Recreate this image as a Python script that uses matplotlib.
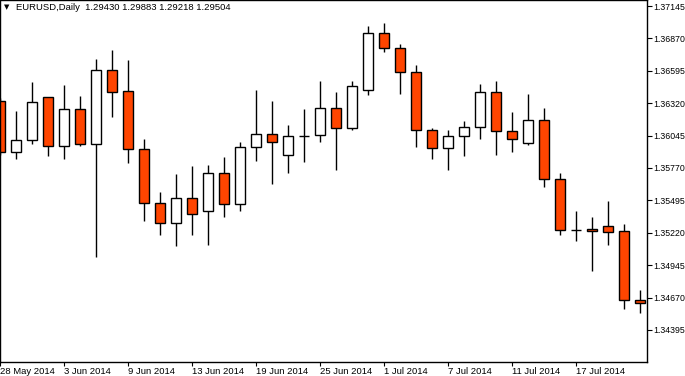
import pandas as pd
import matplotlib.pyplot as plt

# EURUSD daily candles, 28 May 2014 - 23 Jul 2014
opens = [1.36339, 1.35903, 1.36005, 1.36370, 1.35954, 1.36268, 1.35976, 1.36599, 1.36421, 1.35929,
         1.35470, 1.35301, 1.35513, 1.35403, 1.35725, 1.35462, 1.35946, 1.36056, 1.35878, 1.36044,
         1.36048, 1.36277, 1.36107, 1.36430, 1.36913, 1.36786, 1.36582, 1.36090, 1.35937, 1.36039,
         1.36115, 1.36413, 1.36082, 1.35980, 1.36177, 1.35674, 1.35246, 1.35250, 1.35275, 1.35233,
         1.34647]
highs = [1.36364, 1.36254, 1.36500, 1.36370, 1.36474, 1.36379, 1.36695, 1.36772, 1.36687, 1.36016,
         1.35566, 1.35719, 1.35787, 1.35795, 1.35863, 1.35988, 1.36432, 1.36339, 1.36132, 1.36271,
         1.36508, 1.36415, 1.36508, 1.36973, 1.37001, 1.36822, 1.36642, 1.36107, 1.36093, 1.36169,
         1.36483, 1.36508, 1.36245, 1.36398, 1.36279, 1.35728, 1.35405, 1.35354, 1.35490, 1.35295,
         1.34732]
lows = [1.35880, 1.35849, 1.35974, 1.35874, 1.35849, 1.35959, 1.35017, 1.36205, 1.35815, 1.35323,
        1.35204, 1.35111, 1.35204, 1.35119, 1.35357, 1.35408, 1.35832, 1.35637, 1.35730, 1.35823,
        1.35993, 1.35756, 1.36090, 1.36392, 1.36752, 1.36401, 1.35951, 1.35849, 1.35756, 1.35874,
        1.36019, 1.35883, 1.35908, 1.35968, 1.35611, 1.35204, 1.35153, 1.34898, 1.35119, 1.34576,
        1.34542]
closes = [1.35903, 1.36005, 1.36328, 1.35954, 1.36268, 1.35976, 1.36599, 1.36413, 1.35929, 1.35470,
          1.35301, 1.35513, 1.35377, 1.35725, 1.35462, 1.35946, 1.36056, 1.35988, 1.36039, 1.36044,
          1.36277, 1.36107, 1.36463, 1.36913, 1.36786, 1.36582, 1.36090, 1.35937, 1.36039, 1.36115,
          1.36413, 1.36082, 1.36014, 1.36177, 1.35674, 1.35244, 1.35246, 1.35233, 1.35224, 1.34647,
          1.34622]
dates = pd.bdate_range("2014-05-28", periods=len(opens))
price_ticks = [1.34395, 1.34670, 1.34945, 1.35220, 1.35495, 1.35770,
               1.36045, 1.36320, 1.36595, 1.36870, 1.37145]
header = "EURUSD,Daily  1.29430 1.29883 1.29218 1.29504"

plt.rcParams["font.family"] = ["Liberation Sans", "DejaVu Sans"]

fig = plt.figure(figsize=(6.85, 3.76), dpi=100)
ax = fig.add_axes([0, 1 - 362 / 376, 647 / 685, 362 / 376])

bull_color = "white"
bear_color = "#FF4500"
idx = list(range(len(opens)))

# wicks
ax.vlines(idx, lows, highs, color="black", linewidth=1.0, zorder=1)

# bodies
bottoms = [min(o, c) for o, c in zip(opens, closes)]
heights = [abs(c - o) for o, c in zip(opens, closes)]
colors = [bull_color if c > o else bear_color for o, c in zip(opens, closes)]
ax.bar(idx, heights, bottom=bottoms, width=0.64, color=colors,
       edgecolor="black", linewidth=1.0, zorder=2)

ax.set_xlim(-0.02, 40.42)
ax.set_ylim(1.34123, 1.37196)

ax.yaxis.tick_right()
ax.set_yticks(price_ticks)
ax.set_yticklabels([f"{p:.5f}" for p in price_ticks], fontsize=6.3)
ax.tick_params(axis="y", direction="out", length=3.5, width=0.8, pad=0.8, colors="black")

# date labels every 4th bar, last one dropped like the terminal does
tick_pos = idx[0:40:4]
ax.set_xticks(tick_pos)
ax.set_xticklabels([dates[i].strftime("%-d %b %Y") for i in tick_pos], fontsize=6.8, ha="left")
ax.tick_params(axis="x", direction="out", length=3, width=0.8, pad=0.5, colors="black")

for s in ax.spines.values():
    s.set_color("black")
    s.set_linewidth(1.0)

fig.text(4 / 685, 1 - 7.5 / 376, "\u25bc", fontsize=5, family="DejaVu Sans", va="center")
fig.text(16 / 685, 1 - 7.5 / 376, header, fontsize=6.8, va="center")

fig.savefig("out.png", dpi=100, facecolor="white")
